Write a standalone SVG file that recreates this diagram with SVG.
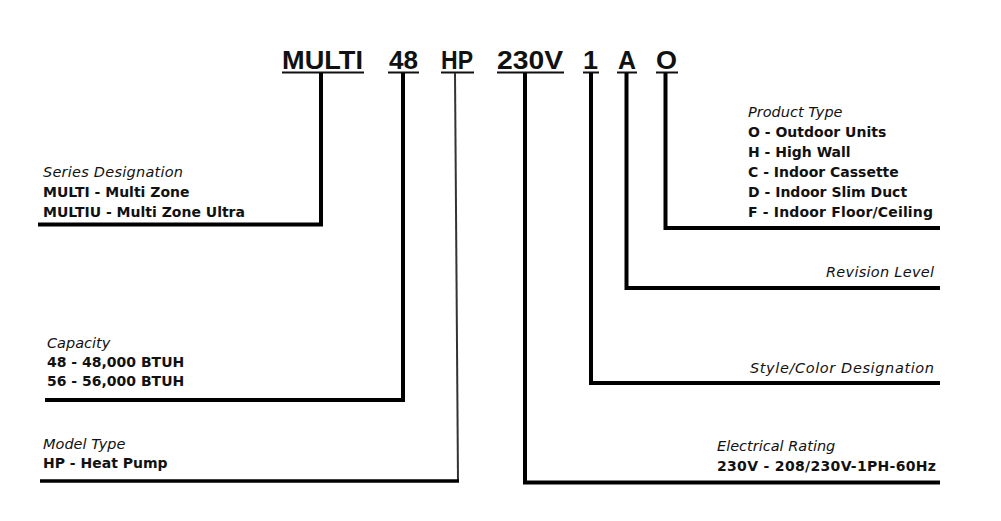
<svg xmlns="http://www.w3.org/2000/svg" width="1001" height="521" viewBox="0 0 1001 521">
<style>
.hdr{font-family:"Liberation Sans",Arial,sans-serif;font-weight:bold;font-size:26px;fill:#111}
.ul{stroke:#111;stroke-width:2}
.ttl{font-family:"DejaVu Sans",Verdana,sans-serif;font-style:italic;font-size:14.5px;fill:#111}
.val{font-family:"DejaVu Sans",Verdana,sans-serif;font-weight:bold;font-size:14px;fill:#111}
.ln{fill:none;stroke:#000;stroke-width:4;stroke-linejoin:miter;stroke-linecap:butt}
.thin{fill:none;stroke:#333;stroke-width:2}
</style>
<rect width="1001" height="521" fill="#fff"/>
<g id="header">
<text class="hdr" x="282" y="69" textLength="81" lengthAdjust="spacingAndGlyphs">MULTI</text>
<text class="hdr" x="389" y="69" textLength="29" lengthAdjust="spacingAndGlyphs">48</text>
<text class="hdr" x="441" y="69" textLength="32" lengthAdjust="spacingAndGlyphs">HP</text>
<text class="hdr" x="497" y="69" textLength="66" lengthAdjust="spacingAndGlyphs">230V</text>
<text class="hdr" x="583" y="69" textLength="15" lengthAdjust="spacingAndGlyphs">1</text>
<text class="hdr" x="618" y="69" textLength="18" lengthAdjust="spacingAndGlyphs">A</text>
<text class="hdr" x="656" y="69" textLength="21" lengthAdjust="spacingAndGlyphs">O</text>
<line class="ul" x1="282" y1="72.5" x2="364" y2="72.5"/>
<line class="ul" x1="388" y1="72.5" x2="419" y2="72.5"/>
<line class="ul" x1="441" y1="72.5" x2="474" y2="72.5"/>
<line class="ul" x1="497" y1="72.5" x2="564" y2="72.5"/>
<line class="ul" x1="583" y1="72.5" x2="599" y2="72.5"/>
<line class="ul" x1="617" y1="72.5" x2="637" y2="72.5"/>
<line class="ul" x1="656" y1="72.5" x2="678" y2="72.5"/>
</g>
<g id="connectors">
<polyline class="ln" points="321,73 321,224.5 38,224.5"/>
<polyline class="ln" points="403,73 403,400 45,400"/>
<polyline class="thin" points="455,73 458,481"/>
<polyline class="ln" style="stroke-width:3.5" points="459,481 40,481"/>
<polyline class="ln" points="525,73 525,482.5 940,482.5"/>
<polyline class="ln" points="591,73 591,383 940,383"/>
<polyline class="ln" points="626.5,73 626.5,288 940,288"/>
<polyline class="ln" points="665.5,73 665.5,228 940,228"/>
</g>
<g id="series">
<text class="ttl" x="43" y="177" textLength="140">Series Designation</text>
<text class="val" x="43" y="197">MULTI - Multi Zone</text>
<text class="val" x="43" y="217">MULTIU - Multi Zone Ultra</text>
</g>
<g id="capacity">
<text class="ttl" x="47" y="348">Capacity</text>
<text class="val" x="47" y="367">48 - 48,000 BTUH</text>
<text class="val" x="47" y="386">56 - 56,000 BTUH</text>
</g>
<g id="model-type">
<text class="ttl" x="43" y="449">Model Type</text>
<text class="val" x="43" y="468">HP - Heat Pump</text>
</g>
<g id="product-type">
<text class="ttl" x="748" y="117">Product Type</text>
<text class="val" x="748" y="137">O - Outdoor Units</text>
<text class="val" x="748" y="157">H - High Wall</text>
<text class="val" x="748" y="177">C - Indoor Cassette</text>
<text class="val" x="748" y="197">D - Indoor Slim Duct</text>
<text class="val" x="748" y="217" textLength="185">F - Indoor Floor/Ceiling</text>
</g>
<g id="revision-level">
<text class="ttl" x="826" y="277" textLength="108">Revision Level</text>
</g>
<g id="style-color">
<text class="ttl" x="750" y="373" textLength="184">Style/Color Designation</text>
</g>
<g id="electrical-rating">
<text class="ttl" x="717" y="451">Electrical Rating</text>
<text class="val" x="717" y="471" textLength="219">230V - 208/230V-1PH-60Hz</text>
</g>
</svg>
